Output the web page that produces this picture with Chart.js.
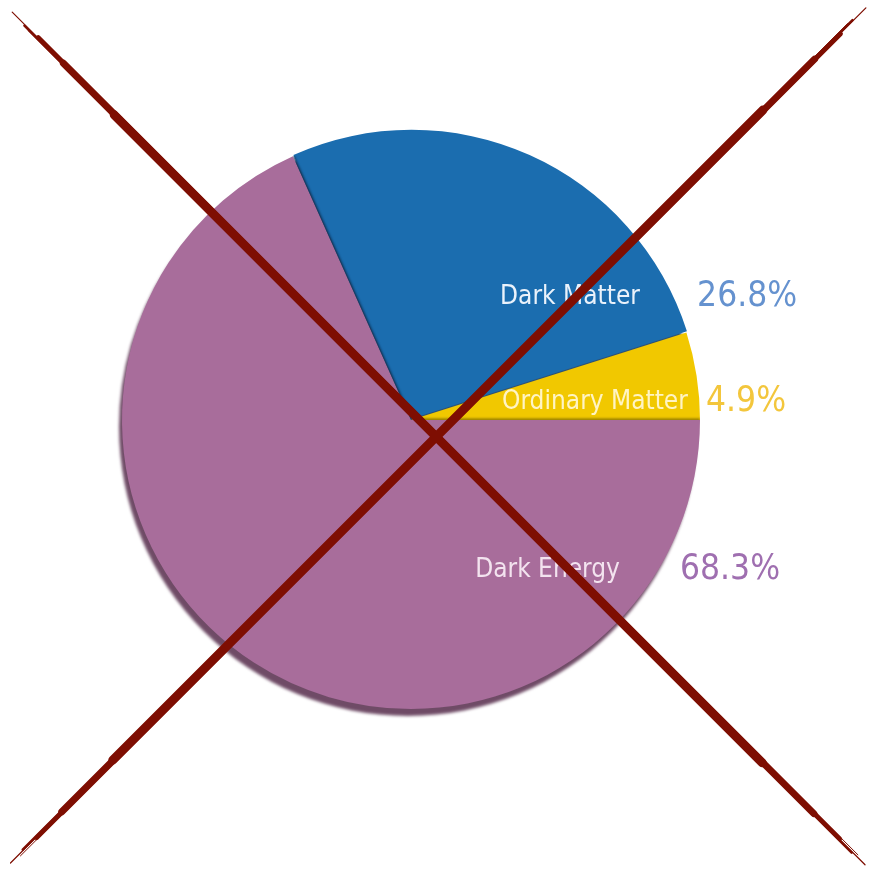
<!DOCTYPE html>
<html lang="en">
<head>
  <meta charset="UTF-8">
  <title>Dark Energy, Dark Matter, Ordinary Matter</title>
  <script src="https://cdn.jsdelivr.net/npm/chart.js"></script>
  <style>
    body {
      margin: 0;
      background: #fff;
    }
    #wrap {
      width: 872px;
      height: 870px;
    }
  </style>
</head>
<body>
  <div id="wrap"><canvas id="pie"></canvas></div>

  <script>
    // clockwise from 3 o'clock
    const labels = ["Dark Energy", "Dark Matter", "Ordinary Matter"];
    const shares = [68.3, 26.8, 4.9];
    const pctLabels = ["68.3%", "26.8%", "4.9%"];

    const sliceColors = ["#a86d9b", "#1b6daf", "#f1c800"];
    const shadowColors = ["rgba(95,55,85,0.9)", "rgba(10,50,90,0.85)", "rgba(120,100,0,0.8)"];
    const innerTextColors = ["#f3e3ef", "#eaf2fb", "#fff4c4"];
    const pctColors = ["#9f6fb0", "#6592cf", "#f3c63c"];

    // label anchors, as fractions of the radius (dy from centre, inner text right edge, % left edge)
    const labelPos = [
      { dy: 0.519, right: 0.723, left: 0.931 },
      { dy: -0.426, right: 0.792, left: 0.990 },
      { dy: -0.062, right: 0.958, left: 1.021 }
    ];

    const shadowPlugin = {
      id: "sliceShadow",
      beforeDatasetDraw(chart) {
        // each arc's shadow goes down first, so it only shows outside the slices
        const ctx = chart.ctx;
        const arcs = chart.getDatasetMeta(0).data;
        arcs.forEach((arc, i) => {
          const { x, y, startAngle, endAngle, outerRadius } = arc.getProps(["x", "y", "startAngle", "endAngle", "outerRadius"]);
          ctx.save();
          ctx.fillStyle = shadowColors[i];
          ctx.filter = "blur(1.5px)";
          ctx.beginPath();
          ctx.moveTo(x - 3, y + 7);
          ctx.arc(x - 3, y + 7, outerRadius, startAngle, endAngle);
          ctx.closePath();
          ctx.fill();
          ctx.restore();
        });
      },
      afterDatasetDraw(chart) {
        // small edge shadows where slices meet
        const ctx = chart.ctx;
        const arcs = chart.getDatasetMeta(0).data;
        [1, 2].forEach(i => {
          const arc = arcs[i];
          const { x, y, startAngle, endAngle, outerRadius } = arc.getProps(["x", "y", "startAngle", "endAngle", "outerRadius"]);
          const edge = i === 2 ? endAngle : startAngle;
          ctx.save();
          ctx.beginPath();
          ctx.moveTo(x, y);
          ctx.arc(x, y, outerRadius, startAngle, endAngle);
          ctx.closePath();
          ctx.clip();
          ctx.strokeStyle = shadowColors[i];
          ctx.filter = "blur(1px)";
          ctx.lineWidth = 3;
          ctx.beginPath();
          ctx.moveTo(x, y);
          ctx.lineTo(x + outerRadius * Math.cos(edge), y + outerRadius * Math.sin(edge));
          ctx.stroke();
          ctx.restore();
        });
      }
    };

    const labelPlugin = {
      id: "sliceLabels",
      afterDatasetsDraw(chart) {
        const ctx = chart.ctx;
        const arcs = chart.getDatasetMeta(0).data;
        arcs.forEach((arc, i) => {
          const r = arc.outerRadius;
          const p = labelPos[i];
          const ty = arc.y + p.dy * r;
          ctx.save();
          ctx.textBaseline = "middle";
          ctx.font = "26px 'DejaVu Sans Condensed', 'DejaVu Sans', sans-serif";
          ctx.fillStyle = innerTextColors[i];
          ctx.textAlign = "right";
          ctx.fillText(labels[i], arc.x + p.right * r, ty);
          ctx.font = "35px 'DejaVu Sans Condensed', 'DejaVu Sans', sans-serif";
          ctx.fillStyle = pctColors[i];
          ctx.textAlign = "left";
          ctx.fillText(pctLabels[i], arc.x + p.left * r, ty);
          ctx.restore();
        });
      }
    };

    const crossPlugin = {
      id: "redCross",
      afterDraw(chart) {
        const ctx = chart.ctx;
        const w = chart.width, h = chart.height;
        const strokes = [
          [[0.014, 0.014], [0.992, 0.994]],
          [[0.993, 0.009], [0.012, 0.992]]
        ];
        // [normal offset, width, from, to] - tapered brush stroke
        const layers = [
          [0, 1.2, 0.0, 1.0],
          [0.8, 2.5, 0.015, 0.985],
          [-0.6, 4.5, 0.03, 0.97],
          [0, 7, 0.06, 0.94],
          [0.5, 9, 0.12, 0.88],
          [1.8, 1, 0.02, 0.7],
          [-2, 1, 0.3, 0.99]
        ];
        ctx.save();
        ctx.strokeStyle = "#7e0e02";
        ctx.lineCap = "round";
        strokes.forEach(([a, b]) => {
          const x1 = a[0] * w, y1 = a[1] * h, x2 = b[0] * w, y2 = b[1] * h;
          const dx = x2 - x1, dy = y2 - y1;
          const len = Math.hypot(dx, dy);
          const nx = -dy / len, ny = dx / len;
          layers.forEach(([off, lw, t0, t1]) => {
            ctx.lineWidth = lw;
            ctx.beginPath();
            ctx.moveTo(x1 + dx * t0 + nx * off, y1 + dy * t0 + ny * off);
            ctx.lineTo(x1 + dx * t1 + nx * off, y1 + dy * t1 + ny * off);
            ctx.stroke();
          });
        });
        ctx.restore();
      }
    };

    new Chart(document.getElementById("pie"), {
      type: "pie",
      data: {
        labels: labels,
        datasets: [{
          data: shares,
          backgroundColor: sliceColors,
          borderWidth: 0,
          offset: [0, 5, 0]
        }]
      },
      options: {
        responsive: true,
        maintainAspectRatio: false,
        animation: false,
        rotation: 90,
        radius: 289,
        layout: { padding: { left: 0, right: 50, top: 0, bottom: 30 } },
        plugins: {
          legend: { display: false },
          tooltip: { enabled: false }
        }
      },
      plugins: [shadowPlugin, labelPlugin, crossPlugin]
    });
  </script>
</body>
</html>
